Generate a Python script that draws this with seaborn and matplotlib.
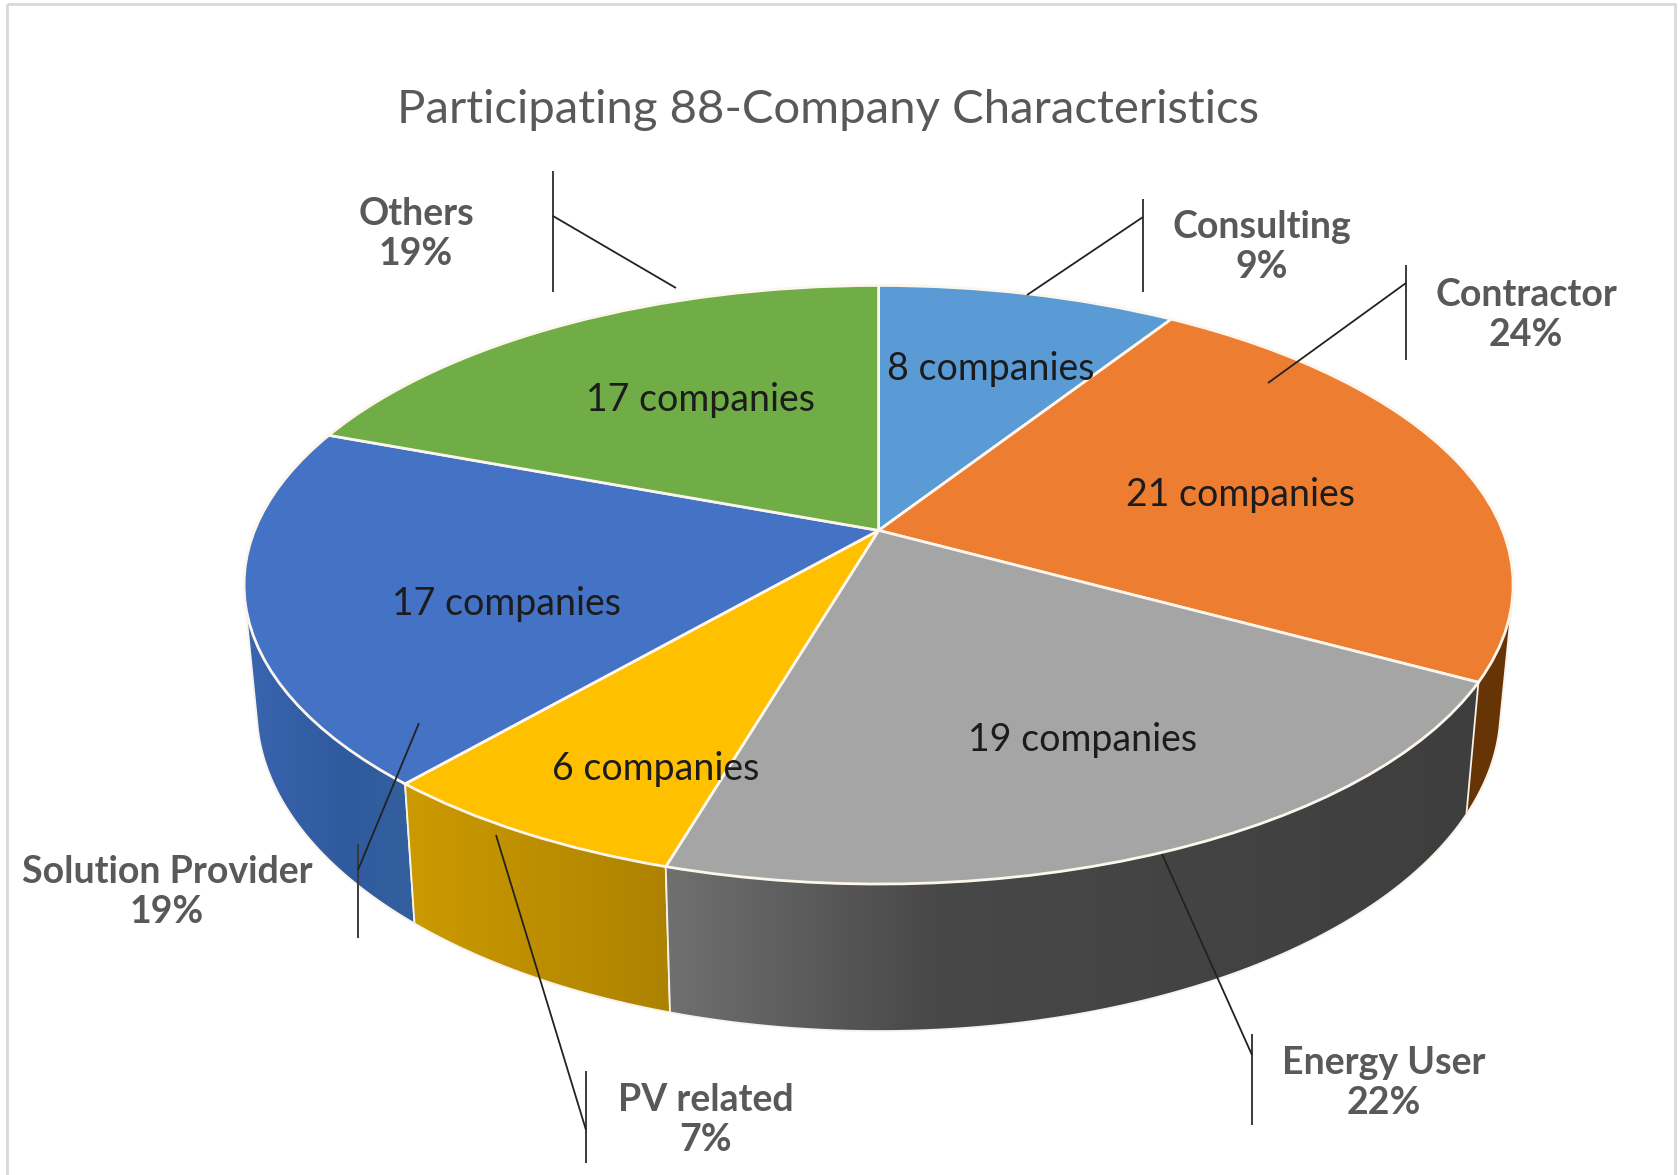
import numpy as np
import matplotlib
matplotlib.use("Agg")
import matplotlib.pyplot as plt
from matplotlib.colors import LinearSegmentedColormap
from matplotlib.patches import Polygon, Rectangle
from matplotlib.transforms import Transform
import seaborn as sns

# Data
categories = ["Consulting", "Contractor", "Energy User", "PV related", "Solution Provider", "Others"]
companies = [8, 21, 19, 6, 17, 17]
percents = [9, 24, 22, 7, 19, 19]
title = "Participating 88-Company Characteristics"

# Style
top_colors = ["#5B9BD5", "#ED7D31", "#A5A5A5", "#FFC000", "#4472C4", "#70AD47"]
side_stops = [
    [(0, "#3F75AC"), (1, "#3F75AC")],
    [(0, "#5E3008"), (1, "#673505")],
    [(0, "#707070"), (0.33, "#484848"), (1, "#3E3E3E")],
    [(0, "#CC9A00"), (1, "#AD8200")],
    [(0, "#3A65B0"), (0.6, "#2F5A9E"), (1, "#34609F")],
    [(0, "#4E7F31"), (1, "#4E7F31")],
]
# back slices first, so a front rim hides what the hull of a back rim pokes out
rim_z = [1.0, 1.2, 1.8, 1.6, 1.4, 1.1]
gray_text = "#595959"
dark_text = "#1C1C1C"

sns.set_theme(style="white")
plt.rcParams["font.family"] = ["Lato", "DejaVu Sans"]


class PieView(Transform):
    # unit circle -> tilted disc in pixels, level 0 is the top face, 1 the base
    input_dims = 2
    output_dims = 2

    def __init__(self, level=0.0):
        super().__init__()
        self.level = level

    def transform_non_affine(self, values):
        values = np.asarray(values, dtype=float)
        x, y = values[:, 0], values[:, 1]
        w = 1 + 0.1814 * y
        px = 624 * x / w
        py = -289.4 * y / w
        px = px * (1 - 0.02 * self.level)
        py = (1 - self.level) * py + self.level * (120.6 + 1.075 * py)
        return np.column_stack([878.6 + px, 530.4 + py])


def hull(points):
    # monotone chain, the rim of a slice is the hull of its two arcs
    pts = sorted(map(tuple, points))

    def half(seq):
        out = []
        for p in seq:
            while len(out) > 1 and ((out[-1][0] - out[-2][0]) * (p[1] - out[-2][1])
                                    - (out[-1][1] - out[-2][1]) * (p[0] - out[-2][0])) <= 0:
                out.pop()
            out.append(p)
        return out[:-1]

    return np.array(half(pts) + half(pts[::-1]))


fig = plt.figure(figsize=(16.8, 11.75), dpi=100)
ax = fig.add_axes([0, 0, 1, 1])

wedges, _ = ax.pie(companies, colors=sns.color_palette(top_colors), startangle=90,
                   counterclock=False,
                   wedgeprops={"edgecolor": "#FDF6EC", "linewidth": 2, "zorder": 3})
for w in wedges:
    w.set_transform(PieView(0) + ax.transData)

# Rim of the disc, each slice gets a gradient clipped to its side
for w, stops, z in zip(wedges, side_stops, rim_z):
    t = np.deg2rad(np.linspace(w.theta1, w.theta2, 120))
    arc = np.column_stack([np.cos(t), np.sin(t)])
    outline = hull(np.vstack([PieView(0).transform(arc), PieView(1).transform(arc)]))

    shape = Polygon(outline, closed=True, facecolor="none", edgecolor="#F7F3EA",
                    linewidth=1.3, zorder=z + 0.05)
    ax.add_patch(shape)
    cmap = LinearSegmentedColormap.from_list("side", stops)
    im = ax.imshow(np.linspace(0, 1, 256)[None, :], cmap=cmap, aspect="auto", zorder=z,
                   extent=(outline[:, 0].min(), outline[:, 0].max(),
                           outline[:, 1].max(), outline[:, 1].min()))
    im.set_clip_path(shape)

ax.set_aspect("auto")
ax.set_xlim(0, 1680)
ax.set_ylim(1175, 0)
ax.axis("off")

# Frame of the screenshot
ax.add_patch(Rectangle((7, 4), 1668, 1180, facecolor="none", edgecolor="#D9D9D9",
                       linewidth=2, zorder=0))

ax.text(828, 110, title, color=gray_text, fontsize=34, ha="center", va="center")

# Leader lines: the bracket and the arm to the slice
leaders = [
    ((1143, 199), (1143, 292), (1143, 217), (1027, 295)),
    ((1406, 265), (1406, 360), (1406, 283), (1268, 383)),
    ((1252, 1034), (1252, 1125), (1252, 1055), (1162, 854)),
    ((586, 1071), (586, 1163), (586, 1130), (496, 835)),
    ((358, 844), (358, 938), (358, 870), (419, 723)),
    ((553, 171), (553, 292), (553, 216), (676, 288)),
]
for a, b, c, d in leaders:
    ax.plot([a[0], b[0]], [a[1], b[1]], color="#3A3A3A", lw=1.4, zorder=4, solid_capstyle="butt")
    ax.plot([c[0], d[0]], [c[1], d[1]], color="#222222", lw=1.3, zorder=4, solid_capstyle="butt")

# Labels
count_pos = [(991, 369), (1240, 495), (1083, 740), (656, 769), (506, 604), (701, 400)]
outer_pos = [(1262, 247), (1526, 315), (1384, 1083), (706, 1120), (167, 892), (416, 234)]
for name, n, pct, cp, op in zip(categories, companies, percents, count_pos, outer_pos):
    ax.text(cp[0], cp[1], "{} companies".format(n), color=dark_text, fontsize=27,
            ha="center", va="center", zorder=5)
    ax.text(op[0], op[1], "{}\n{}%".format(name, pct), color=gray_text, fontsize=27,
            fontweight="bold", ha="center", va="center", linespacing=1.18, zorder=5)

fig.savefig("out.png", dpi=100)
